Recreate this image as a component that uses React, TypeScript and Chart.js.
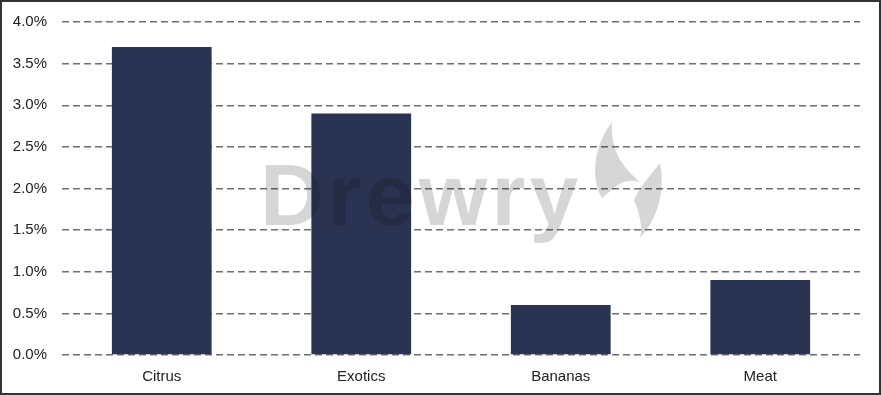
import React, { useEffect, useRef } from "react";
import { Chart, registerables } from "chart.js";

Chart.register(...registerables);

const categories = ["Citrus", "Exotics", "Bananas", "Meat"];
const values = [3.7, 2.9, 0.6, 0.9];
const yMin = 0;
const yMax = 4;
const yStep = 0.5;

const watermark = {
  id: "watermark",
  afterDatasetsDraw(chart: any) {
    const { ctx } = chart;
    ctx.save();
    ctx.globalCompositeOperation = "multiply";
    ctx.fillStyle = "#d6d6d6";
    ctx.font = "bold 88px 'Liberation Sans', Arial, sans-serif";
    (ctx as any).letterSpacing = "4px";
    ctx.textAlign = "left";
    ctx.textBaseline = "alphabetic";
    ctx.fillText("Drewry", 258, 223);
    (ctx as any).letterSpacing = "0px";
    const p = (x: number, y: number): [number, number] => [x - 2, y - 2];
    ctx.beginPath();
    ctx.moveTo(...p(612, 122));
    ctx.bezierCurveTo(...p(594, 145), ...p(590, 178), ...p(602, 198));
    ctx.lineTo(...p(614, 188));
    ctx.bezierCurveTo(...p(622, 181), ...p(630, 179), ...p(640, 182));
    ctx.bezierCurveTo(...p(624, 168), ...p(610, 152), ...p(612, 122));
    ctx.closePath();
    ctx.fill();
    ctx.beginPath();
    ctx.moveTo(...p(660, 163));
    ctx.bezierCurveTo(...p(650, 176), ...p(640, 186), ...p(634, 200));
    ctx.bezierCurveTo(...p(640, 215), ...p(643, 228), ...p(640, 238));
    ctx.bezierCurveTo(...p(656, 220), ...p(666, 195), ...p(660, 163));
    ctx.closePath();
    ctx.fill();
    ctx.restore();
  },
};

export default function App() {
  const ref = useRef<HTMLCanvasElement>(null);
  useEffect(() => {
    document.body.style.margin = "0";
    const chart = new Chart(ref.current!, {
      type: "bar",
      data: {
        labels: categories,
        datasets: [
          {
            data: values,
            backgroundColor: "#2a3452",
            borderWidth: 0,
            barPercentage: 0.5,
            categoryPercentage: 1,
          },
        ],
      },
      options: {
        animation: false,
        responsive: false,
        maintainAspectRatio: false,
        layout: { padding: { left: 0, right: 19, top: 20, bottom: 0 } },
        plugins: { legend: { display: false }, tooltip: { enabled: false } },
        scales: {
          x: {
            grid: { display: false, drawTicks: false },
            border: { display: false },
            ticks: {
              color: "#222",
              padding: 13,
              font: { family: "'Liberation Sans', Arial, sans-serif", size: 15 },
            },
            afterFit(scale: any) {
              scale.height = 38;
            },
          },
          y: {
            min: yMin,
            max: yMax,
            grid: {
              color: "#6e6e6e",
              lineWidth: 1.5,
              drawTicks: false,
            },
            border: { display: false, dash: [7, 4] },
            ticks: {
              stepSize: yStep,
              color: "#222",
              padding: 15,
              font: { family: "'Liberation Sans', Arial, sans-serif", size: 15 },
              callback: (v: any) => Number(v).toFixed(1) + "%",
            },
            afterFit(scale: any) {
              scale.width = 60;
              scale.paddingTop = 0;
              scale.paddingBottom = 0;
            },
          },
        },
      },
      plugins: [watermark],
    });
    return () => chart.destroy();
  }, []);
  return (
    <div
      style={{
        width: 881,
        height: 395,
        border: "2px solid #333",
        boxSizing: "border-box",
        background: "#fff",
      }}
    >
      <canvas ref={ref} width={877} height={391} style={{ display: "block" }} />
    </div>
  );
}
